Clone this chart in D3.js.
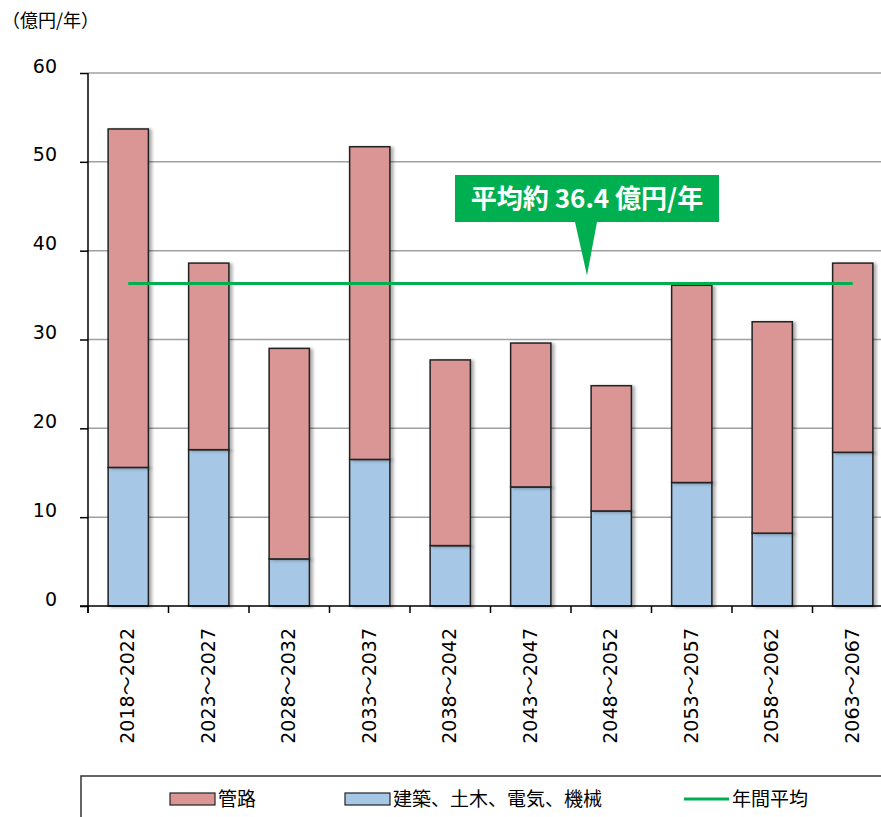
<!DOCTYPE html>
<meta charset="utf-8">
<script src="https://d3js.org/d3.v7.min.js"></script>
<style>
  body { margin: 0; background: #fff; }
  text { font-family: "Noto Sans CJK JP", "Noto Sans", sans-serif; }
  text.num { font-family: "DejaVu Sans", "Noto Sans CJK JP", sans-serif; }
</style>
<body>
<svg id="chart" width="881" height="817"></svg>
</body>
<script>
var periods = ["2018～2022", "2023～2027", "2028～2032", "2033～2037", "2038～2042",
               "2043～2047", "2048～2052", "2053～2057", "2058～2062", "2063～2067"];
var facilities = [15.6, 17.6, 5.3, 16.5, 6.8, 13.4, 10.7, 13.9, 8.2, 17.3]; // 建築、土木、電気、機械
var pipes = [38.1, 21.0, 23.7, 35.2, 20.9, 16.2, 14.1, 22.2, 23.8, 21.3];     // 管路
var average = 36.3;
var yTicks = [0, 10, 20, 30, 40, 50, 60];

var margin = {top: 73, left: 88},
    width = 805,
    height = 533;

var svg = d3.select("#chart");

var defs = svg.append("defs");
var f = defs.append("filter").attr("id", "shadow").attr("x", "-20%").attr("width", "150%");
f.append("feDropShadow").attr("dx", 3).attr("dy", 1).attr("stdDeviation", 1.5)
  .attr("flood-color", "#000").attr("flood-opacity", 0.3);

var g = svg.append("g").attr("transform", "translate(" + margin.left + "," + margin.top + ")");

var x = d3.scaleBand().domain(periods).range([0, width]).paddingInner(0.5).paddingOuter(0.25);
var xb = d3.scaleBand().domain(periods).range([0, width]);
var y = d3.scaleLinear().domain([0, 60]).range([height, 0]);

// grid
g.selectAll(".grid").data(yTicks.slice(1)).enter().append("line")
  .attr("x1", 0).attr("x2", width)
  .attr("y1", function(d) { return y(d); }).attr("y2", function(d) { return y(d); })
  .attr("stroke", "#a0a0a0").attr("stroke-width", 1.5);

// y axis
var yAxis = g.append("g").call(d3.axisLeft(y).tickValues(yTicks).tickSize(8).tickPadding(23));
yAxis.attr("font-family", null);
yAxis.select(".domain").remove();
yAxis.selectAll("line").attr("stroke", "#000").attr("stroke-width", 1.5);
yAxis.selectAll("text").classed("num", true).attr("font-size", 19).attr("fill", "#000")
  .attr("dy", "-0.05em");
g.append("line").attr("x1", 0).attr("x2", 0).attr("y1", 0).attr("y2", height + 7)
  .attr("stroke", "#000").attr("stroke-width", 1.5);

// stacked bars
var table = periods.map(function(p, i) { return {period: p, facilities: facilities[i], pipes: pipes[i]}; });
var stack = d3.stack().keys(["facilities", "pipes"])(table);
var colors = {facilities: "#a6c7e5", pipes: "#d99694"};

stack.forEach(function(layer) {
  g.selectAll(".bar-" + layer.key).data(layer).enter().append("rect")
    .attr("x", function(d) { return x(d.data.period); })
    .attr("width", x.bandwidth())
    .attr("y", function(d) { return y(d[1]); })
    .attr("height", function(d) { return y(d[0]) - y(d[1]); })
    .attr("fill", colors[layer.key])
    .attr("stroke", "#222").attr("stroke-width", 1.5)
    .attr("filter", "url(#shadow)");
});

// x axis
g.append("line").attr("x1", -8).attr("x2", width).attr("y1", height).attr("y2", height)
  .attr("stroke", "#000").attr("stroke-width", 1.5);
g.selectAll(".xtick").data(periods).enter().append("line")
  .attr("x1", function(d) { return xb(d); }).attr("x2", function(d) { return xb(d); })
  .attr("y1", height).attr("y2", height + 7)
  .attr("stroke", "#000").attr("stroke-width", 1.5);
g.selectAll(".xlabel").data(periods).enter().append("text")
  .attr("class", "num")
  .attr("transform", function(d) {
    return "translate(" + (xb(d) + xb.bandwidth() / 2 + 6) + "," + (height + 22) + ") rotate(-90)";
  })
  .attr("text-anchor", "end")
  .attr("font-size", 19)
  .text(function(d) { return d; });

// average line
g.append("line")
  .attr("x1", x(periods[0]) + x.bandwidth() / 2)
  .attr("x2", x(periods[periods.length - 1]) + x.bandwidth() / 2)
  .attr("y1", y(average)).attr("y2", y(average))
  .attr("stroke", "#00b050").attr("stroke-width", 3);

// callout
var cx = 587, boxTop = 175, boxBottom = 222;
svg.append("path")
  .attr("d", "M455," + boxTop + "H719V" + boxBottom + "H597L" + cx + "," + (margin.top + y(average) - 8) +
             "L575," + boxBottom + "H455Z")
  .attr("fill", "#00b050");
svg.append("text").attr("x", cx).attr("y", 208).attr("text-anchor", "middle")
  .attr("font-size", 26).attr("font-weight", "bold").attr("fill", "#fff")
  .text("平均約 36.4 億円/年");

// unit
svg.append("text").attr("x", 2).attr("y", 27).attr("font-size", 18).text("（億円/年）");

// legend
svg.append("path").attr("d", "M81,817V776H881").attr("fill", "none").attr("stroke", "#333").attr("stroke-width", 1.5);
var legend = [
  {label: "管路", type: "rect", color: colors.pipes, x: 170},
  {label: "建築、土木、電気、機械", type: "rect", color: colors.facilities, x: 345},
  {label: "年間平均", type: "line", color: "#00b050", x: 684}
];
legend.forEach(function(d) {
  if (d.type === "rect") {
    svg.append("rect").attr("x", d.x).attr("y", 793).attr("width", 45).attr("height", 12)
      .attr("fill", d.color).attr("stroke", "#222").attr("stroke-width", 1.2);
  } else {
    svg.append("line").attr("x1", d.x).attr("x2", d.x + 45).attr("y1", 799).attr("y2", 799)
      .attr("stroke", d.color).attr("stroke-width", 3);
  }
  svg.append("text").attr("x", d.x + 48).attr("y", 806).attr("font-size", 19).text(d.label);
});
</script>
